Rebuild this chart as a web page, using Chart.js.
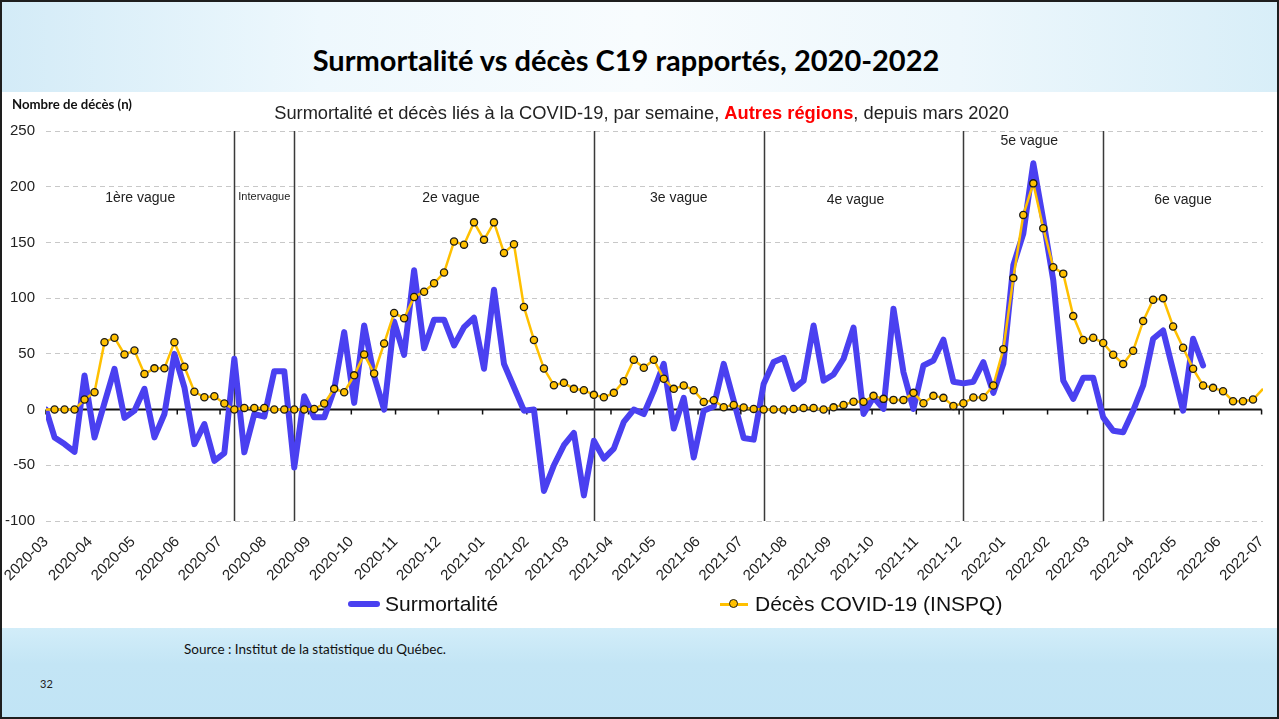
<!DOCTYPE html>
<html lang="fr">
<head>
<meta charset="utf-8">
<script src="https://cdn.jsdelivr.net/npm/chart.js@4.4.1/dist/chart.umd.min.js"></script>
<style>
  html, body { margin: 0; padding: 0; }
  body { width: 1279px; height: 719px; position: relative; overflow: hidden; background: #fff; font-family: "Liberation Sans", Arial, sans-serif; }
  #topband { position: absolute; left: 0; top: 0; width: 1279px; height: 92px;
    background: linear-gradient(90deg, #d3ebf7 0%, #eef8fd 25%, #f8fcfe 50%, #edf7fc 75%, #d8eef8 100%); }
  #botband { position: absolute; left: 0; top: 628px; width: 1279px; height: 91px;
    background: linear-gradient(180deg, #d2edf9 0%, #c3e5f5 40%, #c1e4f5 100%); }
  #frame { position: absolute; left: 0; top: 0; width: 1275px; height: 715px; border: 2px solid #1e1e1e; z-index: 10; }
  #title { position: absolute; left: 0; top: 42px; width: 1252px; text-align: center; font: bold 29px Lato, "Open Sans", sans-serif; color: #000; }
  #subtitle { position: absolute; left: 2px; top: 102px; width: 1279px; text-align: center; font-size: 18.3px; color: #222; z-index: 2; }
  #subtitle b { color: #ff0000; }
  #ylabel { position: absolute; left: 12px; top: 96px; font: bold 13.2px Lato, sans-serif; color: #111; z-index: 2; }
  #chart { position: absolute; left: 0; top: 92px; }
  .leg { position: absolute; top: 592px; font-size: 21px; color: #111; z-index: 2; line-height: 24px; }
  #leg1 { left: 348px; }
  #leg2 { left: 720px; }
  .sw { display: inline-block; position: relative; vertical-align: middle; margin-right: 7px; }
  #sw1 { width: 32px; height: 6px; border-radius: 3px; background: #4a40f0; margin-right: 5px; top: -1px; }
  #sw2 { width: 28px; height: 3px; background: #ffc000; top: -1px; }
  #sw2 i { position: absolute; left: 9px; top: -4px; width: 7px; height: 7px; border-radius: 50%; background: #ffc000; border: 1.3px solid #1a1a1a; }
  #source { position: absolute; left: 184px; top: 641px; font: 13.5px Lato, sans-serif; color: #111; }
  #page { position: absolute; left: 40px; top: 677px; font: 11px Lato, sans-serif; color: #222; }
</style>
</head>
<body>
<div id="topband"></div>
<div id="botband"></div>
<div id="title">Surmortalité vs décès C19 rapportés, 2020-2022</div>
<div id="ylabel">Nombre de décès (n)</div>
<div id="subtitle">Surmortalité et décès liés à la COVID-19, par semaine, <b>Autres régions</b>, depuis mars 2020</div>
<canvas id="chart" width="1279" height="536"></canvas>
<div class="leg" id="leg1"><span class="sw" id="sw1"></span>Surmortalité</div>
<div class="leg" id="leg2"><span class="sw" id="sw2"><i></i></span>Décès COVID-19 (INSPQ)</div>
<div id="source">Source : Institut de la statistique du Québec.</div>
<div id="page">32</div>
<div id="frame"></div>

<script>
// semaines : premier point au 2020-03-01, puis fins de semaine à partir du 2020-03-07
const startDate = '2020-03-01';
const firstWeekEnd = '2020-03-07';

// Surmortalité (n) par semaine
const surmortalite = [
    0, -25, -31, -38, 30.6, -25, 6, 36.6, -7.5, -1,
    18.6, -25, -4, 50, 20, -31, -13, -46, -39, 45.6,
    -38.4, -4, -6.3, 34.5, 34.5, -52, 12, -7, -7, 18,
    69.5, 6, 75.5, 30, 0, 79, 49, 125, 55, 80.7,
    80.7, 57.5, 74, 82.4, 36.6, 107.6, 41, 20, -1, 0,
    -73, -50, -32, -21, -77, -28, -44, -35, -11, 0,
    -4, 17, 41, -17, 10.5, -43, -1, 2.7, 41, 8,
    -25.5, -27, 23, 42.6, 46.5, 18.6, 26, 75.5, 26, 31.5,
    45.6, 73.5, -4, 11, 0.6, 90.5, 33.5, 0.6, 39.6, 44,
    62.7, 25, 23.5, 25, 42.5, 15, 41, 129.5, 158, 221,
    170, 116, 26, 9.6, 28.5, 28.5, -7, -19, -20.4, -1,
    21.6, 63.6, 71, 35, -1, 63.6, 39.6
];

// Décès COVID-19 (INSPQ) par semaine
const decesCovid = [
    0, 0, 0, 0, 9, 15.5, 60.5, 64.5, 49.5, 53,
    32, 37, 37, 60.5, 38.5, 16, 11, 12, 5.4, 0,
    1.5, 1.5, 1.5, 0, 0, 0, 0, 0.5, 5.4, 18.6,
    15.6, 30.7, 49.5, 32.4, 59.4, 86.6, 82, 101, 105.8, 113.3,
    123, 150.8, 148, 168, 152.3, 168, 140.6, 148.4, 92, 62.5,
    36.8, 21.8, 24, 18.6, 17.4, 13.2, 11, 15, 25.5, 44.7,
    37.5, 44.7, 27.6, 18.6, 21.6, 17.4, 6.9, 8.4, 2.1, 4.2,
    1.8, 0.6, 0, 0, 0, 0.6, 1.5, 1.5, 0, 2,
    4.2, 7, 7, 12.3, 9.6, 8.7, 8.7, 15, 5.7, 12.3,
    10.5, 3.3, 5.7, 10.8, 11, 21.6, 54.2, 118, 174.7, 203,
    162.8, 127.7, 122, 83.9, 62.5, 64.5, 59.7, 49.2, 40.8, 52.8,
    79.4, 98.6, 99.8, 74.6, 55.5, 36.6, 21.6, 19.5, 16.5, 7.5,
    7.5, 9, 18.6
];

const monthLabels = [
    '2020-03', '2020-04', '2020-05', '2020-06', '2020-07', '2020-08', '2020-09', '2020-10',
    '2020-11', '2020-12', '2021-01', '2021-02', '2021-03', '2021-04', '2021-05', '2021-06',
    '2021-07', '2021-08', '2021-09', '2021-10', '2021-11', '2021-12', '2022-01', '2022-02',
    '2022-03', '2022-04', '2022-05', '2022-06', '2022-07'
];

// limites des vagues (semaine de fin)
const waveBounds = ['2020-07-11', '2020-08-22', '2021-03-20', '2021-07-17', '2021-12-04', '2022-03-12'];
const waveNames = ['1ère vague', 'Intervague', '2e vague', '3e vague', '4e vague', '5e vague', '6e vague'];
const waveLabelLevel = [190, 191, 190, 190, 188, 241, 188];
const waveLabelShift = [0, 0, 7, 0, -8, -4, 0];

const DAY = 86400000;
function dayOf(s) {
    return (Date.parse(s + 'T00:00:00Z') - Date.parse(startDate + 'T00:00:00Z')) / DAY;
}
const firstDay = dayOf(firstWeekEnd);
function weekDay(i) {
    return i === 0 ? 0 : firstDay + 7 * (i - 1);
}
const monthDays = monthLabels.map(m => dayOf(m + '-01'));
const lastDay = weekDay(decesCovid.length - 1);

const blueData = surmortalite.map((v, i) => ({ x: weekDay(i), y: v }));
const yellowData = decesCovid.map((v, i) => ({ x: weekDay(i), y: v }));

const wavePlugin = {
    id: 'vagues',
    beforeDatasetsDraw(chart) {
        const { ctx, chartArea, scales: { x, y } } = chart;
        ctx.save();
        // ligne du zéro + repères des mois
        const y0 = y.getPixelForValue(0);
        ctx.strokeStyle = '#111';
        ctx.lineWidth = 2;
        ctx.beginPath();
        ctx.moveTo(chartArea.left, y0);
        ctx.lineTo(x.getPixelForValue(monthDays[monthDays.length - 1]), y0);
        ctx.stroke();
        ctx.lineWidth = 1.5;
        ctx.beginPath();
        monthDays.forEach(d => {
            const px = x.getPixelForValue(d);
            ctx.moveTo(px, y0);
            ctx.lineTo(px, y0 + 5);
        });
        ctx.stroke();

        // séparateurs des vagues
        ctx.strokeStyle = '#3a3a3a';
        ctx.lineWidth = 1.5;
        ctx.beginPath();
        waveBounds.forEach(b => {
            const px = Math.round(x.getPixelForValue(dayOf(b))) + 0.5;
            ctx.moveTo(px, y.getPixelForValue(250));
            ctx.lineTo(px, y.getPixelForValue(-100));
        });
        ctx.stroke();

        // noms des vagues
        const edges = [0].concat(waveBounds.map(dayOf), [lastDay]);
        ctx.fillStyle = '#222';
        ctx.textAlign = 'center';
        ctx.textBaseline = 'middle';
        waveNames.forEach((name, i) => {
            const mid = (x.getPixelForValue(edges[i]) + x.getPixelForValue(edges[i + 1])) / 2 + waveLabelShift[i];
            ctx.font = (name === 'Intervague' ? '11px' : '14px') + ' "Liberation Sans", Arial, sans-serif';
            ctx.fillText(name, mid, y.getPixelForValue(waveLabelLevel[i]));
        });
        ctx.restore();
    }
};

const ctx = document.getElementById('chart').getContext('2d');
const chart = new Chart(ctx, {
    type: 'line',
    data: {
        datasets: [{
            label: 'Décès COVID-19 (INSPQ)',
            data: yellowData,
            borderColor: '#ffc000',
            backgroundColor: '#ffc000',
            borderWidth: 2.5,
            pointBackgroundColor: '#ffc000',
            pointBorderColor: '#1a1a1a',
            pointBorderWidth: 1.3,
            pointRadius: c => (c.dataIndex === 0 || c.dataIndex === decesCovid.length - 1) ? 0 : 3.6,
            tension: 0,
            order: 1
        }, {
            label: 'Surmortalité',
            data: blueData,
            borderColor: '#4a40f0',
            backgroundColor: '#4a40f0',
            borderWidth: 6,
            borderJoinStyle: 'round',
            borderCapStyle: 'round',
            pointRadius: 0,
            tension: 0,
            order: 2
        }]
    },
    options: {
        responsive: false,
        animation: false,
        layout: {
            padding: { top: 39, right: 16, left: 0, bottom: 0 }
        },
        plugins: {
            legend: { display: false },
            tooltip: { enabled: false }
        },
        scales: {
            x: {
                type: 'linear',
                min: 0,
                max: lastDay,
                grid: { display: false },
                border: { display: false },
                afterBuildTicks: s => { s.ticks = monthDays.map(v => ({ value: v })); },
                afterFit: s => { s.height = 107; s.paddingLeft = 0; s.paddingRight = 0; },
                ticks: {
                    autoSkip: false,
                    maxRotation: 45,
                    minRotation: 45,
                    padding: 4,
                    color: '#222',
                    font: { family: '"Liberation Sans", Arial, sans-serif', size: 15 },
                    callback: (v, i) => monthLabels[i]
                }
            },
            y: {
                min: -100,
                max: 250,
                afterFit: s => { s.width = 46; },
                grid: {
                    drawTicks: false,
                    color: c => c.tick.value === 0 ? 'rgba(0,0,0,0)' : '#c8c8c8',
                    lineWidth: 1
                },
                border: { display: false, dash: [5, 4] },
                ticks: {
                    stepSize: 50,
                    padding: 11,
                    color: '#222',
                    font: { family: '"Liberation Sans", Arial, sans-serif', size: 15 }
                }
            }
        }
    },
    plugins: [wavePlugin]
});
</script>
</body>
</html>
